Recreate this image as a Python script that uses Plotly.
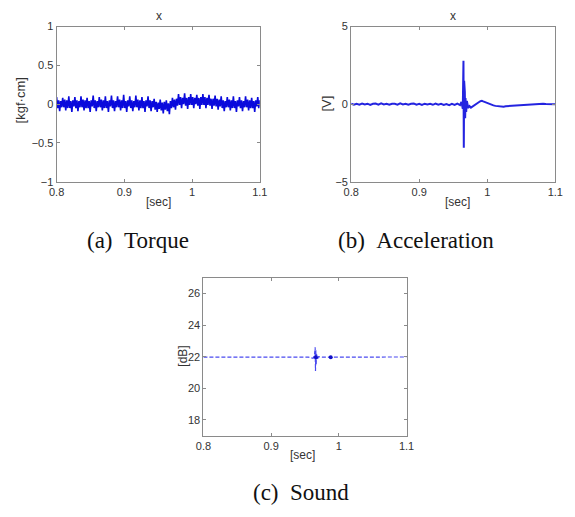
import plotly.graph_objects as go

# ---------------- data ----------------
torque_t0 = 0.800
torque_dt = 0.0015
torque_vals = [
    # 0.800 - 0.935
    0.09, -0.05, 0.05, -0.09, 0.04, -0.04,
    0.08, -0.04, 0.06, -0.08, 0.05, -0.05,
    0.10, -0.05, 0.04, -0.10, 0.05, -0.03,
    0.09, -0.05, 0.05, -0.09, 0.04, -0.04,
    0.10, -0.04, 0.06, -0.08, 0.05, -0.05,
    0.08, -0.05, 0.04, -0.10, 0.05, -0.03,
    0.11, -0.05, 0.05, -0.09, 0.04, -0.04,
    0.09, -0.04, 0.06, -0.08, 0.05, -0.05,
    0.10, -0.05, 0.04, -0.10, 0.05, -0.03,
    0.11, -0.05, 0.05, -0.09, 0.04, -0.04,
    0.10, -0.04, 0.06, -0.08, 0.05, -0.05,
    0.12, -0.05, 0.04, -0.10, 0.05, -0.03,
    0.10, -0.05, 0.05, -0.09, 0.04, -0.04,
    0.11, -0.04, 0.06, -0.08, 0.05, -0.05,
    0.09, -0.05, 0.04, -0.10, 0.05, -0.03,
    0.10, -0.05, 0.05, -0.09, 0.04, -0.04,
    # 0.944 - 0.971
    0.07, -0.07, 0.03, -0.10, 0.02, -0.06,
    0.06, -0.08, 0.02, -0.12, 0.03, -0.07,
    0.05, -0.09, 0.01, -0.13, 0.04, -0.05,
    0.08, -0.04, 0.06, -0.07, 0.07, -0.02,
    # 0.980 - 1.034
    0.13, -0.01, 0.09, -0.05, 0.08, 0.00,
    0.14, -0.02, 0.08, -0.06, 0.09, -0.01,
    0.13, -0.01, 0.09, -0.05, 0.08, 0.00,
    0.12, -0.02, 0.08, -0.06, 0.09, -0.01,
    0.13, -0.01, 0.09, -0.05, 0.08, -0.01,
    0.12, -0.02, 0.07, -0.06, 0.07, -0.02,
    0.11, -0.03, 0.07, -0.07, 0.06, -0.03,
    # 1.043 - 1.097
    0.10, -0.05, 0.05, -0.09, 0.04, -0.04,
    0.09, -0.04, 0.06, -0.08, 0.05, -0.05,
    0.10, -0.05, 0.04, -0.10, 0.05, -0.03,
    0.09, -0.05, 0.05, -0.09, 0.04, -0.04,
    0.10, -0.04, 0.06, -0.08, 0.05, -0.05,
    0.08, -0.05, 0.04, -0.10, 0.05, -0.03,
    0.09, -0.05, 0.05,
]
torque_time = [round(torque_t0 + i * torque_dt, 5) for i in range(len(torque_vals))]

accel_time = [
    0.800, 0.804, 0.808, 0.812, 0.816, 0.820, 0.824, 0.828, 0.832, 0.836, 0.840,
    0.844, 0.848, 0.852, 0.856, 0.860, 0.864, 0.868, 0.872, 0.876, 0.880, 0.884,
    0.888, 0.892, 0.896, 0.900, 0.904, 0.908, 0.912, 0.916, 0.920, 0.924, 0.928,
    0.932, 0.936, 0.940, 0.944, 0.948, 0.952, 0.956, 0.960,
    0.962, 0.964, 0.9650, 0.9655, 0.9660, 0.9665, 0.9670, 0.9675, 0.968, 0.969, 0.970,
    0.972, 0.974, 0.976, 0.978, 0.980,
    0.982, 0.984, 0.986, 0.988, 0.990, 0.992, 0.994, 0.996, 0.998,
    1.000, 1.003, 1.006, 1.009, 1.012, 1.015, 1.018, 1.021, 1.024, 1.027, 1.030,
    1.034, 1.038, 1.042, 1.046, 1.050, 1.054, 1.058, 1.062, 1.066, 1.070,
    1.074, 1.078, 1.082, 1.086, 1.090, 1.094, 1.100,
]
accel_vals = [
    0.03, -0.04, 0.02, -0.03, 0.04, -0.02, 0.03, -0.05, 0.02, 0.04, -0.03,
    0.05, -0.02, 0.02, -0.04, 0.03, 0.02, -0.03, 0.05, -0.02, 0.03, -0.04,
    0.02, 0.04, -0.03, 0.02, -0.05, 0.03, -0.02, 0.02, -0.04, 0.04, -0.03,
    0.02, -0.05, 0.01, -0.06, 0.02, -0.05, 0.03, -0.06,
    0.15, -0.3, 2.8, -2.8, 1.5, -1.6, 0.8, -0.9, 0.4, -0.5, 0.2,
    -0.25, -0.12, -0.22, -0.15, -0.10,
    -0.04, 0.02, 0.08, 0.14, 0.20, 0.22, 0.18, 0.14, 0.10,
    0.05, 0.00, -0.04, -0.08, -0.11, -0.13, -0.15, -0.14, -0.16, -0.13, -0.12,
    -0.10, -0.11, -0.08, -0.05, -0.03, -0.04, -0.01, 0.01, 0.02, 0.01,
    0.03, 0.02, 0.03, 0.01, 0.02, -0.01, 0.00,
]

sound_time = [
    0.800, 0.820, 0.840, 0.860, 0.880, 0.900, 0.920, 0.940,
    0.955, 0.962, 0.964, 0.965, 0.9655, 0.966, 0.9665, 0.967, 0.968, 0.970,
    0.975, 0.985, 0.988, 0.991, 1.000,
    1.020, 1.040, 1.060, 1.080, 1.100,
]
sound_vals = [
    21.97, 21.97, 21.98, 21.96, 21.97, 21.98, 21.97, 21.97,
    21.97, 21.9, 22.1, 22.6, 21.1, 22.4, 21.5, 22.2, 21.8, 22.0,
    21.97, 21.97, 21.97, 21.97, 21.97,
    21.98, 21.96, 21.97, 21.97, 21.98,
]
sound_dot_time = [0.966, 0.988]
sound_dot_vals = [21.97, 21.97]

x_ticks = [0.8, 0.9, 1.0, 1.1]
x_ticktext = ["0.8", "0.9", "1", "1.1"]
torque_ticks = [-1, -0.5, 0, 0.5, 1]
torque_ticktext = ["\u22121", "\u22120.5", "0", "0.5", "1"]
accel_ticks = [-5, 0, 5]
accel_ticktext = ["\u22125", "0", "5"]
sound_ticks = [18, 20, 22, 24, 26]

# ---------------- figure ----------------
W, H = 575, 517


def px(x):
    return x / W


def py(y):
    return 1 - y / H


fig = go.Figure()
fig.add_trace(go.Scatter(x=torque_time, y=torque_vals, mode="lines",
                         line=dict(color="#0a0adc", width=1.6),
                         xaxis="x", yaxis="y", showlegend=False))
fig.add_trace(go.Scatter(x=accel_time, y=accel_vals, mode="lines",
                         line=dict(color="#2424e0", width=2.0),
                         xaxis="x2", yaxis="y2", showlegend=False))
fig.add_trace(go.Scatter(x=sound_time, y=sound_vals, mode="lines",
                         line=dict(color="#4a4af0", width=1.2, dash="4px,2px"),
                         xaxis="x3", yaxis="y3", showlegend=False))
fig.add_trace(go.Scatter(x=sound_dot_time, y=sound_dot_vals, mode="markers",
                         marker=dict(color="#1010c8", size=4),
                         xaxis="x3", yaxis="y3", showlegend=False))

axis_common = dict(showgrid=False, zeroline=False, showline=True,
                   linecolor="#8a8a8a", linewidth=1, mirror="ticks",
                   ticks="inside", ticklen=3, tickcolor="#8a8a8a",
                   tickfont=dict(family="Arial, Liberation Sans", size=11, color="#333333"))

fig.update_layout(
    width=W, height=H, margin=dict(l=0, r=0, t=0, b=0),
    paper_bgcolor="white", plot_bgcolor="white",
    xaxis=dict(domain=[px(50), px(259)], range=[0.8, 1.1], tickvals=x_ticks,
               ticktext=x_ticktext, anchor="y", **axis_common),
    yaxis=dict(domain=[py(180), py(21)], range=[-1, 1], tickvals=torque_ticks,
               ticktext=torque_ticktext, anchor="x", **axis_common),
    xaxis2=dict(domain=[px(353), px(563)], range=[0.8, 1.1], tickvals=x_ticks,
                ticktext=x_ticktext, anchor="y2", **axis_common),
    yaxis2=dict(domain=[py(180), py(21)], range=[-5, 5], tickvals=accel_ticks,
                ticktext=accel_ticktext, anchor="x2", **axis_common),
    xaxis3=dict(domain=[px(201), px(410)], range=[0.8, 1.1], tickvals=x_ticks,
                ticktext=x_ticktext, anchor="y3", **axis_common),
    yaxis3=dict(domain=[py(440), py(278)], range=[17, 27], tickvals=sound_ticks,
                anchor="x3", **axis_common),
)

small = dict(family="Arial, Liberation Sans", size=12, color="#333333")
label = dict(family="Arial, Liberation Sans", size=13, color="#333333")
cap = dict(family="Liberation Serif, Times New Roman, serif", size=23, color="#111111")


def ann(x, y, text, font, angle=0):
    fig.add_annotation(x=px(x), y=py(y), xref="paper", yref="paper", text=text,
                       showarrow=False, font=font, textangle=angle,
                       xanchor="center", yanchor="middle")


ann(155, 10, "x", small)
ann(458, 10, "x", small)
ann(155, 201, "[sec]", small)
ann(462, 201, "[sec]", small)
ann(303, 460, "[sec]", small)
ann(13, 97, "[kgf\u00b7cm]", label, -90)
ann(328, 100, "[V]", label, -90)
ann(180, 358, "[dB]", small, -90)
ann(134, 240, "(a)&nbsp;&nbsp;Torque", cap)
ann(420, 240, "(b)&nbsp;&nbsp;Acceleration", cap)
ann(301, 498, "(c)&nbsp;&nbsp;Sound", cap)

fig.write_html("out.html")
